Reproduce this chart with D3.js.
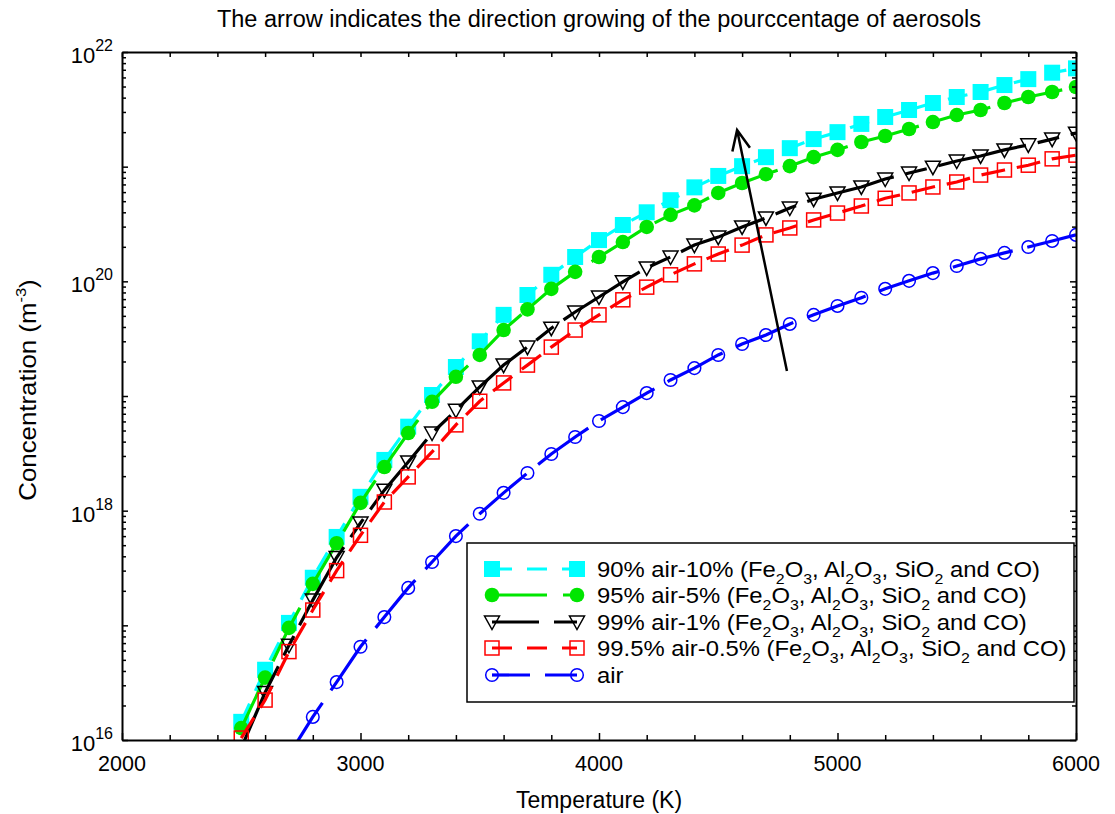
<!DOCTYPE html>
<html lang="en">
<head>
<meta charset="utf-8">
<title>Concentration vs temperature</title>
<style>
    body { margin: 0; background: white; }
    svg text { font-family: Arial, "Liberation Sans", sans-serif; fill: black; }
    .frame path.domain { stroke: black; stroke-width: 2; }
    .frame line { stroke: black; stroke-width: 1.5; }
</style>
<script src="https://cdn.jsdelivr.net/npm/d3@7"></script>
</head>
<body>
<script>
    // temperatures (K), one marker every 100 K
    let temps = [2500, 2600, 2700, 2800, 2900, 3000, 3100, 3200, 3300, 3400, 3500, 3600,
                 3700, 3800, 3900, 4000, 4100, 4200, 4300, 4400, 4500, 4600, 4700, 4800,
                 4900, 5000, 5100, 5200, 5300, 5400, 5500, 5600, 5700, 5800, 5900, 6000]

    // concentrations (m^-3)
    let air90 = [1.44e16, 4.1e16, 1.05e17, 2.6e17, 5.9e17, 1.32e18, 2.77e18, 5.4e18, 1.02e19, 1.79e19, 3.0e19, 5.1e19,
                 7.6e19, 1.14e20, 1.63e20, 2.29e20, 3.1e20, 4.0e20, 5.1e20, 6.6e20, 8.3e20, 1.01e21, 1.21e21, 1.45e21,
                 1.74e21, 2.0e21, 2.36e21, 2.71e21, 3.12e21, 3.59e21, 4.05e21, 4.48e21, 5.15e21, 5.8e21, 6.6e21, 7.2e21]
    let air95 = [1.27e16, 3.5e16, 9.5e16, 2.3e17, 5.2e17, 1.17e18, 2.4e18, 4.75e18, 8.9e18, 1.47e19, 2.28e19, 3.76e19,
                 5.7e19, 8.6e19, 1.21e20, 1.63e20, 2.2e20, 2.98e20, 3.8e20, 4.6e20, 5.9e20, 7.2e20, 8.6e20, 1.01e21,
                 1.21e21, 1.40e21, 1.64e21, 1.85e21, 2.13e21, 2.45e21, 2.82e21, 3.12e21, 3.59e21, 4.05e21, 4.48e21, 4.95e21]
    let air99 = [8.5e15, 2.6e16, 6.7e16, 1.66e17, 3.9e17, 7.8e17, 1.51e18, 2.66e18, 4.75e18, 7.5e18, 1.2e19, 1.86e19,
                 2.67e19, 3.9e19, 5.4e19, 7.3e19, 9.9e19, 1.31e20, 1.63e20, 2.07e20, 2.43e20, 2.98e20, 3.57e20, 4.36e20,
                 5.2e20, 5.9e20, 6.65e20, 7.8e20, 8.8e20, 9.9e20, 1.12e21, 1.24e21, 1.40e21, 1.55e21, 1.74e21, 1.96e21]
    let air995 = [1.04e16, 2.23e16, 5.9e16, 1.36e17, 3.0e17, 6.1e17, 1.19e18, 1.97e18, 3.25e18, 5.6e18, 9.0e18, 1.30e19,
                  1.86e19, 2.67e19, 3.76e19, 5.1e19, 6.9e19, 8.9e19, 1.14e20, 1.42e20, 1.73e20, 2.07e20, 2.54e20, 2.92e20,
                  3.43e20, 3.94e20, 4.54e20, 5.3e20, 5.9e20, 6.65e20, 7.35e20, 8.45e20, 9.35e20, 1.03e21, 1.17e21, 1.26e21]
    let airOnly = [null, null, 7.4e15, 1.59e16, 3.2e16, 6.5e16, 1.18e17, 2.12e17, 3.57e17, 6.0e17, 9.4e17, 1.43e18,
                   2.13e18, 3.12e18, 4.39e18, 6.05e18, 8.0e18, 1.06e19, 1.38e19, 1.75e19, 2.28e19, 2.84e19, 3.40e19, 4.25e19,
                   5.1e19, 6.1e19, 7.2e19, 8.6e19, 1.01e20, 1.18e20, 1.36e20, 1.57e20, 1.77e20, 1.99e20, 2.25e20, 2.54e20]

    let seriesNames = ["90% air-10% (Fe_2O_3, Al_2O_3, SiO_2 and CO)",
                       "95% air-5% (Fe_2O_3, Al_2O_3, SiO_2 and CO)",
                       "99% air-1% (Fe_2O_3, Al_2O_3, SiO_2 and CO)",
                       "99.5% air-0.5% (Fe_2O_3, Al_2O_3, SiO_2 and CO)",
                       "air"]
    let seriesValues = [air90, air95, air99, air995, airOnly]

    let xTicks = [2000, 3000, 4000, 5000, 6000]
    let xMinor = [2200, 2400, 2600, 2800, 3200, 3400, 3600, 3800, 4200, 4400, 4600, 4800, 5200, 5400, 5600, 5800]
    let yExponents = [16, 18, 20, 22]

    // the arrow: from (T, n) to (T, n)
    let arrowFrom = [4788, 1.65e19]
    let arrowTo = [4579, 2.09e21]

    let titleText = "The arrow indicates the direction growing of the pourccentage of aerosols"

    let width = 1115
    let height = 814
    let margin = {left: 122, right: 39, top: 52, bottom: 74}

    let styles = [
        {color: "#00ffff", dash: "20,14", legendDash: "20,15", marker: "square", fill: true},
        {color: "#00e600", dash: "60,14", legendDash: "55,16", marker: "circle", fill: true},
        {color: "#000000", dash: "90,12,22,12", legendDash: "47,15", marker: "triangle", fill: false},
        {color: "#ff0000", dash: "24,12", legendDash: "20,15", marker: "square", fill: false},
        {color: "#0000ff", dash: "62,15", legendDash: "38,15", marker: "circle", fill: false}
    ]

    let svg = d3.select("body").append("svg")
        .attr("width", width)
        .attr("height", height)

    let x = d3.scaleLinear()
        .domain([2000, 6000])
        .range([margin.left, width - margin.right])

    let y = d3.scaleLog()
        .domain([1e16, 1e22])
        .range([height - margin.bottom, margin.top])

    // minor y ticks: 2..9 per decade
    let yMinor = []
    let yDecades = []
    for (let e = 16; e < 22; e++) {
        yDecades.push(Math.pow(10, e))
        for (let k = 2; k < 10; k++) yMinor.push(k * Math.pow(10, e))
    }
    yDecades.push(1e22)

    let drawMarker = (g, type, cx, cy, st) => {
        let m
        if (type == "square") {
            let s = st.fill ? 16 : 14
            m = g.append("rect").attr("x", cx - s / 2).attr("y", cy - s / 2).attr("width", s).attr("height", s)
        } else if (type == "circle") {
            m = g.append("circle").attr("cx", cx).attr("cy", cy).attr("r", st.fill ? 7.3 : 6.3)
        } else {
            m = g.append("path").attr("d", `M${cx - 7.5},${cy - 6}L${cx + 7.5},${cy - 6}L${cx},${cy + 7.5}Z`)
        }
        m.attr("fill", st.fill ? st.color : "none")
         .attr("stroke", st.color)
         .attr("stroke-width", st.fill ? 0 : 1.5)
    }

    let addLabel = (sel, label, big, small, shift) => {
        // "_" marks a one-character subscript
        let parts = label.split("_")
        sel.append("tspan").text(parts[0]).attr("font-size", big)
        for (let i = 1; i < parts.length; i++) {
            sel.append("tspan").text(parts[i][0]).attr("font-size", small).attr("dy", shift)
            sel.append("tspan").text(parts[i].slice(1)).attr("font-size", big).attr("dy", -shift)
        }
    }

    let drawAxes = () => {
        let plotH = height - margin.bottom - margin.top
        let plotW = width - margin.right - margin.left

        svg.append("g").attr("class", "frame")
            .attr("transform", `translate(0,${height - margin.bottom})`)
            .call(d3.axisBottom(x).tickValues(xTicks).tickSize(-7).tickSizeOuter(0).tickFormat(""))
        svg.append("g").attr("class", "frame")
            .attr("transform", `translate(0,${height - margin.bottom})`)
            .call(d3.axisBottom(x).tickValues(xMinor).tickSize(-5).tickSizeOuter(0).tickFormat(""))
            .select(".domain").remove()
        svg.append("g").attr("class", "frame")
            .attr("transform", `translate(0,${margin.top})`)
            .call(d3.axisTop(x).tickValues(xTicks.concat(xMinor)).tickSize(-5).tickSizeOuter(0).tickFormat(""))

        svg.append("g").attr("class", "frame")
            .attr("transform", `translate(${margin.left},0)`)
            .call(d3.axisLeft(y).tickValues(yDecades).tickSize(-6).tickSizeOuter(0).tickFormat(""))
        svg.append("g").attr("class", "frame")
            .attr("transform", `translate(${margin.left},0)`)
            .call(d3.axisLeft(y).tickValues(yMinor).tickSize(-4).tickSizeOuter(0).tickFormat(""))
            .select(".domain").remove()
        svg.append("g").attr("class", "frame")
            .attr("transform", `translate(${width - margin.right},0)`)
            .call(d3.axisRight(y).tickValues(yDecades).tickSize(-6).tickSizeOuter(0).tickFormat(""))
        svg.append("g").attr("class", "frame")
            .attr("transform", `translate(${width - margin.right},0)`)
            .call(d3.axisRight(y).tickValues(yMinor).tickSize(-4).tickSizeOuter(0).tickFormat(""))
            .select(".domain").remove()

        // tick labels
        svg.append("g").selectAll("text")
            .data(xTicks)
            .enter()
            .append("text")
            .attr("x", d => x(d))
            .attr("y", height - margin.bottom + 31)
            .attr("text-anchor", "middle")
            .attr("font-size", 21.5)
            .text(d => d)

        yExponents.forEach(e => {
            let t = svg.append("text")
                .attr("x", margin.left - 9)
                .attr("y", y(Math.pow(10, e)) + 11)
                .attr("text-anchor", "end")
            t.append("tspan").attr("font-size", 22).text("10")
            t.append("tspan").attr("font-size", 16).attr("dy", -12).text(e)
        })

        svg.append("text")
            .attr("x", x(4000))
            .attr("y", 808)
            .attr("text-anchor", "middle")
            .attr("font-size", 23)
            .text("Temperature (K)")

        let yl = svg.append("text")
            .attr("transform", `translate(36,390) rotate(-90) scale(1.1,1)`)
            .attr("text-anchor", "middle")
        yl.append("tspan").attr("font-size", 23.5).text("Concentration (m")
        yl.append("tspan").attr("font-size", 15).attr("dy", -10).text("-3")
        yl.append("tspan").attr("font-size", 23.5).attr("dy", 10).text(")")

        svg.append("text")
            .attr("x", margin.left + plotW / 2)
            .attr("y", 27)
            .attr("text-anchor", "middle")
            .attr("font-size", 23.5)
            .text(titleText)
    }

    let drawSeries = () => {
        svg.append("clipPath").attr("id", "plot-clip")
            .append("rect")
            .attr("x", margin.left).attr("y", margin.top)
            .attr("width", width - margin.left - margin.right)
            .attr("height", height - margin.top - margin.bottom)

        let plot = svg.append("g").attr("clip-path", "url(#plot-clip)")

        seriesValues.forEach((vals, i) => {
            let st = styles[i]
            let pts = temps.map((t, j) => ({t: t, v: vals[j]})).filter(d => d.v != null)
            let line = d3.line().x(d => x(d.t)).y(d => y(d.v))
            let g = plot.append("g")
            g.append("path")
                .attr("d", line(pts))
                .attr("fill", "none")
                .attr("stroke", st.color)
                .attr("stroke-width", 3.2)
                .attr("stroke-dasharray", st.dash)
            pts.forEach(d => drawMarker(g, st.marker, x(d.t), y(d.v), st))
        })

        // arrow showing growth of the aerosol share
        let x1 = x(arrowFrom[0]), y1 = y(arrowFrom[1])
        let x2 = x(arrowTo[0]), y2 = y(arrowTo[1])
        let ang = Math.atan2(y2 - y1, x2 - x1)
        let head = 22, spread = 0.42
        plot.append("path")
            .attr("d", `M${x1},${y1}L${x2},${y2}` +
                       `M${x2 - head * Math.cos(ang - spread)},${y2 - head * Math.sin(ang - spread)}L${x2},${y2}` +
                       `L${x2 - head * Math.cos(ang + spread)},${y2 - head * Math.sin(ang + spread)}`)
            .attr("fill", "none")
            .attr("stroke", "black")
            .attr("stroke-width", 2.5)
    }

    let drawLegend = () => {
        let lg = svg.append("g").attr("id", "legend")
        lg.append("rect")
            .attr("x", 467).attr("y", 543)
            .attr("width", 607).attr("height", 159)
            .attr("fill", "white")
            .attr("stroke", "black")
            .attr("stroke-width", 1.5)

        let rowY = [569, 595, 622, 648, 675]
        seriesNames.forEach((name, i) => {
            let st = styles[i]
            let yy = rowY[i]
            lg.append("line")
                .attr("x1", 492).attr("x2", 577)
                .attr("y1", yy).attr("y2", yy)
                .attr("stroke", st.color)
                .attr("stroke-width", 3.2)
                .attr("stroke-dasharray", st.legendDash)
            drawMarker(lg, st.marker, 492, yy, st)
            drawMarker(lg, st.marker, 577, yy, st)
            let t = lg.append("text")
                .attr("transform", `translate(597,${yy + 8}) scale(1.06,1)`)
            addLabel(t, name, 22.5, 15, 7)
        })
    }

    drawSeries()
    drawAxes()
    drawLegend()
</script>
</body>
</html>
